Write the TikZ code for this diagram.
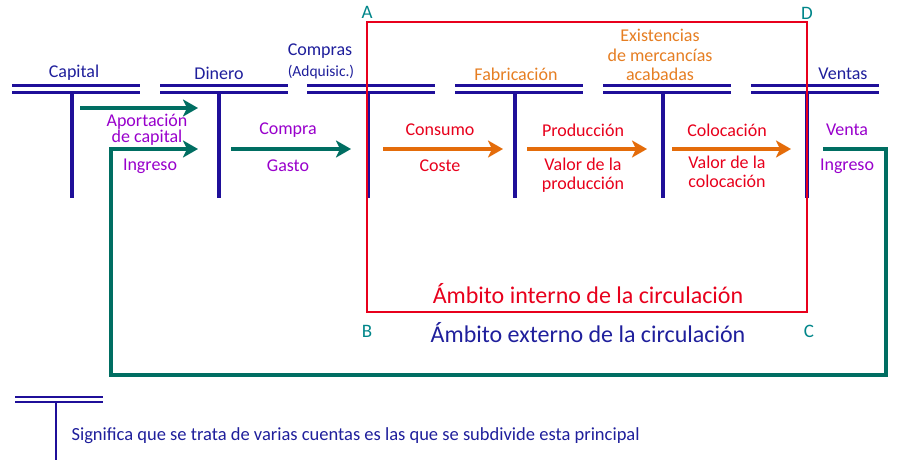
\documentclass[tikz,border=0pt]{standalone}
\usepackage{fontspec}
\setmainfont{Carlito}
\usepackage{tikz}
\usetikzlibrary{arrows.meta}
\definecolor{CuentaBlue}{HTML}{1F0F99}
\definecolor{TitleBlue}{HTML}{1F1F9C}
\definecolor{FlowTeal}{HTML}{006E62}
\definecolor{LetterTeal}{HTML}{00868A}
\definecolor{FlowOrange}{HTML}{E46C0A}
\definecolor{TitleOrange}{HTML}{E67E22}
\definecolor{LabelPurple}{HTML}{9900CC}
\definecolor{LabelRed}{HTML}{E8001C}
\definecolor{BoxRed}{HTML}{E8001C}
\tikzset{
	cuenta/.style={draw=CuentaBlue, line width=3.5pt},
	leyenda/.style={draw=CuentaBlue, line width=2pt},
	flujo/.style={draw=FlowTeal, line width=3.5pt, -{Stealth[length=15pt,width=17pt,inset=4pt]}},
	proceso/.style={draw=FlowOrange, line width=3.5pt, -{Stealth[length=15pt,width=17pt,inset=4pt]}},
	titulo/.style={text=TitleBlue, font=\fontsize{18}{19}\selectfont},
	etiqueta/.style={text=LabelPurple, align=center, font=\fontsize{18}{14}\selectfont},
	valor/.style={text=LabelRed, align=center, font=\fontsize{18}{19}\selectfont},
	vertice/.style={text=LetterTeal, font=\fontsize{19}{20}\selectfont},
	ambito/.style={font=\fontsize{24}{26}\selectfont}
}
% T-account: name, left end of the double line, x of the stem
\newcommand{\tcuenta}[3]{%
	\draw[cuenta] (#2,85.3) -- ++(128,0);
	\draw[cuenta] (#2,92.7) -- ++(128,0);
	\draw[cuenta] (#3,92.7) -- (#3,198);
	\coordinate (#1) at (#3,92.7);
}

\begin{document}
\begin{tikzpicture}[x=1pt,y=-1pt]
	\fill[white] (0,0) rectangle (909,460);
	\useasboundingbox (0,0) rectangle (909,460);

	\tcuenta{capital}{12}{72}
	\tcuenta{dinero}{160}{219}
	\tcuenta{compras}{307}{368}
	\tcuenta{fabric}{455}{515}
	\tcuenta{exist}{603}{663}
	\tcuenta{ventas}{751}{807}

	% account titles
	\node[titulo] (t-capital) at (74,73) {Capital};
	\node[titulo] (t-dinero) at (219,73) {Dinero};
	\node[titulo] (t-compras) at (320,51) {Compras};
	\node[titulo, font=\fontsize{15.5}{17}\selectfont] (t-adq) at (321,72) {(Adquisic.)};
	\node[titulo, text=TitleOrange] (t-fabric) at (516,74) {Fabricación};
	\node[titulo, text=TitleOrange, align=center, font=\fontsize{18}{19.5}\selectfont] (t-exist) at (660,55) {Existencias\\de mercancías\\acabadas};
	\node[titulo] (t-ventas) at (843,74) {Ventas};

	% internal scope
	\coordinate (A) at (367,22);
	\coordinate (C) at (807,312);
	\draw[draw=BoxRed, line width=2.5pt] (A) rectangle (C);
	\node[vertice] (l-A) at (367,12) {A};
	\node[vertice] (l-D) at (807,13) {D};
	\node[vertice] (l-B) at (367,331) {B};
	\node[vertice] (l-C) at (809,331) {C};
	\node[ambito, text=LabelRed] (interno) at (588,294) {Ámbito interno de la circulación};
	\node[ambito, text=TitleBlue] (externo) at (588,333) {Ámbito externo de la circulación};

	% money flows
	\coordinate (aport-s) at (80,108);
	\coordinate (aport-e) at (198,108);
	\coordinate (compra-s) at (231,149);
	\coordinate (compra-e) at (351,149);
	\coordinate (venta-s) at (823,149);
	\coordinate (lazo) at (886,375);
	\coordinate (ingreso-v) at (111,149);
	\coordinate (ingreso-e) at (198,149);
	\draw[flujo] (aport-s) -- (aport-e);
	\draw[flujo] (compra-s) -- (compra-e);
	\draw[flujo] (venta-s) -| (lazo) -| (ingreso-v) -- (ingreso-e);

	% production flows
	\coordinate (consumo-s) at (383,149);
	\coordinate (consumo-e) at (503,149);
	\coordinate (prod-s) at (527,149);
	\coordinate (prod-e) at (647,149);
	\coordinate (coloc-s) at (672,149);
	\coordinate (coloc-e) at (791,149);
	\draw[proceso] (consumo-s) -- (consumo-e);
	\draw[proceso] (prod-s) -- (prod-e);
	\draw[proceso] (coloc-s) -- (coloc-e);

	% flow labels
	\node[etiqueta] (aportacion) at (147,130) {Aportación\\de capital};
	\node[etiqueta] (ingreso1) at (150,166) {Ingreso};
	\node[etiqueta] (compra) at (288,130) {Compra};
	\node[etiqueta] (gasto) at (288,166) {Gasto};
	\node[valor] (consumo) at (440,130) {Consumo};
	\node[valor] (coste) at (440,166) {Coste};
	\node[valor] (produccion) at (583,130) {Producción};
	\node[valor] (v-prod) at (583,175) {Valor de la\\producción};
	\node[valor] (colocacion) at (727,130) {Colocación};
	\node[valor] (v-coloc) at (727,172) {Valor de la\\colocación};
	\node[etiqueta] (venta) at (847,130) {Venta};
	\node[etiqueta] (ingreso2) at (847,166) {Ingreso};

	% legend
	\draw[leyenda] (15,397) -- (103,397);
	\draw[leyenda] (15,401.5) -- (103,401.5);
	\draw[leyenda] (56,401.5) -- (56,460);
	\node[anchor=west, text=TitleBlue, font=\fontsize{18.5}{20}\selectfont] (nota) at (68,436) {Significa que se trata de varias cuentas es las que se subdivide esta principal};
\end{tikzpicture}
\end{document}
